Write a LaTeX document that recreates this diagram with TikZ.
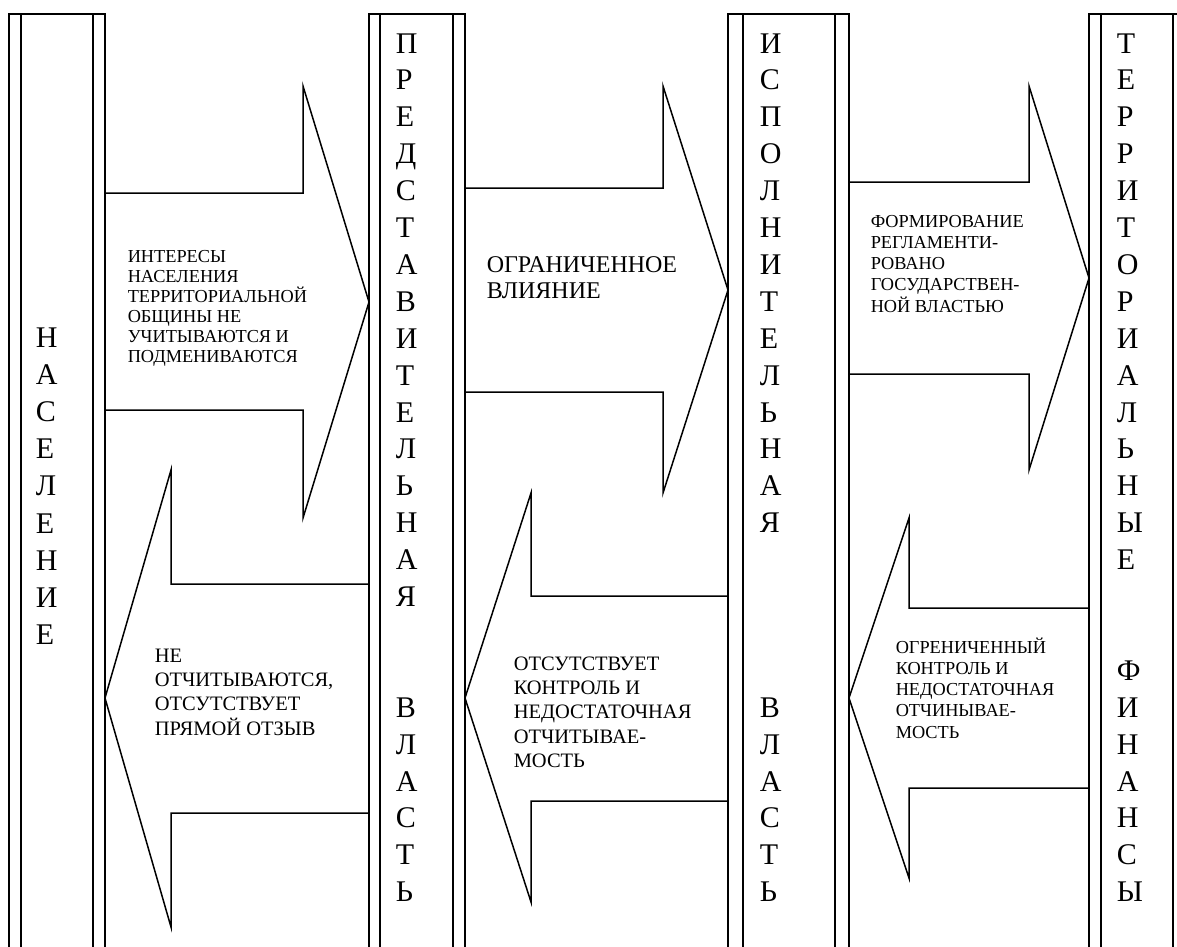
\documentclass[tikz,border=0pt]{standalone}
\usepackage{fontspec}
\setmainfont{Liberation Serif}
\newcommand{\stack}[2]{\vtop{\baselineskip=#1pt\lineskiplimit=-100pt\relax #2}}
\newcommand{\lnx}[1]{\hbox{#1}}
\begin{document}
\begin{tikzpicture}[x=1pt,y=-1pt,
  line width=1.5pt, line join=miter,
  colline/.style={draw=black, line width=1.5pt},
  blockarrow/.style={draw=black, line width=1.5pt, fill=none},
  colletters/.style={anchor=base west, inner sep=0pt, font=\fontsize{30}{37}\selectfont},
  smalltxt/.style={anchor=base west, inner sep=0pt, font=\fontsize{18.3}{20}\selectfont},
  midtxt/.style={anchor=base west, inner sep=0pt, font=\fontsize{20.5}{24}\selectfont},
  bigtxt/.style={anchor=base west, inner sep=0pt, font=\fontsize{24}{27}\selectfont}]
\useasboundingbox (0,0) rectangle (1177,946);
\fill[white] (0,0) rectangle (1177,946);
% columns (open at the bottom)
\foreach \a/\b/\c/\d in {9/21/93/105, 369/380/453/465, 728/743/835/849, 1089/1101/1173/1190}{
  \draw[colline] (\a,960) -- (\a,14) -- (\d,14) -- (\d,960);
  \draw[colline] (\b,14) -- (\b,960);
  \draw[colline] (\c,14) -- (\c,960);
}
% right-pointing arrows
\draw[blockarrow] (105,193) -- (303,193) -- (303,86) -- (369,302) -- (303,518) -- (303,410) -- (105,410);
\draw[blockarrow] (465,188) -- (663,188) -- (663,86) -- (728,290) -- (663,493) -- (663,392) -- (465,392);
\draw[blockarrow] (849,182) -- (1029,182) -- (1029,86) -- (1089,278) -- (1029,470) -- (1029,374) -- (849,374);
% left-pointing arrows
\draw[blockarrow] (369,584) -- (171,584) -- (171,470) -- (105,698) -- (171,927) -- (171,813) -- (369,813);
\draw[blockarrow] (728,596) -- (531,596) -- (531,493) -- (465,698) -- (531,902) -- (531,801) -- (728,801);
\draw[blockarrow] (1089,608) -- (909,608) -- (909,518) -- (849,698) -- (909,878) -- (909,788) -- (1089,788);
% column texts
\node[colletters] (pop) at (35,347) {\stack{37.2}{\lnx{Н}\lnx{А}\lnx{С}\lnx{Е}\lnx{Л}\lnx{Е}\lnx{Н}\lnx{И}\lnx{Е}}};
\node[colletters] (rep) at (395,53) {\stack{36.9}{\lnx{П}\lnx{Р}\lnx{Е}\lnx{Д}\lnx{С}\lnx{Т}\lnx{А}\lnx{В}\lnx{И}\lnx{Т}\lnx{Е}\lnx{Л}\lnx{Ь}\lnx{Н}\lnx{А}\lnx{Я}\lnx{}\lnx{}\lnx{В}\lnx{Л}\lnx{А}\lnx{С}\lnx{Т}\lnx{Ь}}};
\node[colletters] (exe) at (759,53) {\stack{36.9}{\lnx{И}\lnx{С}\lnx{П}\lnx{О}\lnx{Л}\lnx{Н}\lnx{И}\lnx{Т}\lnx{Е}\lnx{Л}\lnx{Ь}\lnx{Н}\lnx{А}\lnx{Я}\lnx{}\lnx{}\lnx{}\lnx{}\lnx{В}\lnx{Л}\lnx{А}\lnx{С}\lnx{Т}\lnx{Ь}}};
\node[colletters] (fin) at (1116,53) {\stack{36.9}{\lnx{Т}\lnx{Е}\lnx{Р}\lnx{Р}\lnx{И}\lnx{Т}\lnx{О}\lnx{Р}\lnx{И}\lnx{А}\lnx{Л}\lnx{Ь}\lnx{Н}\lnx{Ы}\lnx{Е}\lnx{}\lnx{}\lnx{Ф}\lnx{И}\lnx{Н}\lnx{А}\lnx{Н}\lnx{С}\lnx{Ы}}};
% arrow texts
\node[smalltxt] (t1) at (127,262) {\stack{20}{\lnx{ИНТЕРЕСЫ}\lnx{НАСЕЛЕНИЯ}\lnx{ТЕРРИТОРИАЛЬНОЙ}\lnx{ОБЩИНЫ НЕ}\lnx{УЧИТЫВАЮТСЯ И}\lnx{ПОДМЕНИВАЮТСЯ}}};
\node[bigtxt] (t2) at (486,272) {\stack{26.7}{\lnx{ОГРАНИЧЕННОЕ}\lnx{ВЛИЯНИЕ}}};
\node[smalltxt] (t3) at (870,227) {\stack{21.3}{\lnx{ФОРМИРОВАНИЕ}\lnx{РЕГЛАМЕНТИ-}\lnx{РОВАНО}\lnx{ГОСУДАРСТВЕН-}\lnx{НОЙ ВЛАСТЬЮ}}};
\node[midtxt] (t4) at (154,662) {\stack{24.4}{\lnx{НЕ}\lnx{ОТЧИТЫВАЮТСЯ,}\lnx{ОТСУТСТВУЕТ}\lnx{ПРЯМОЙ ОТЗЫВ}}};
\node[midtxt] (t5) at (513,670) {\stack{24.4}{\lnx{ОТСУТСТВУЕТ}\lnx{КОНТРОЛЬ И}\lnx{НЕДОСТАТОЧНАЯ}\lnx{ОТЧИТЫВАЕ-}\lnx{МОСТЬ}}};
\node[smalltxt] (t6) at (895,653) {\stack{21.3}{\lnx{ОГРЕНИЧЕННЫЙ}\lnx{КОНТРОЛЬ И}\lnx{НЕДОСТАТОЧНАЯ}\lnx{ОТЧИНЫВАЕ-}\lnx{МОСТЬ}}};
\end{tikzpicture}
\end{document}
